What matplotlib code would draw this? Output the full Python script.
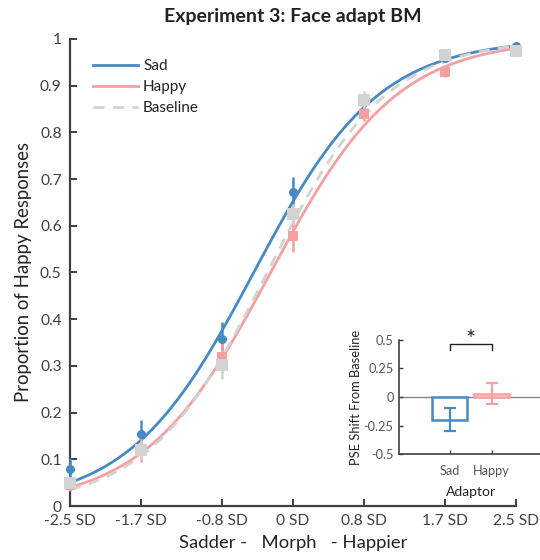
import numpy as np
import matplotlib
matplotlib.use("Agg")
import matplotlib.pyplot as plt

plt.rcParams['font.family'] = ['Lato', 'DejaVu Sans']

# morph levels (in SD units) and tick labels
levels = [-2.5, -1.7, -0.8, 0.0, 0.8, 1.7, 2.5]
level_labels = ['-2.5 SD', '-1.7 SD', '-0.8 SD', '0 SD', '0.8 SD', '1.7 SD', '2.5 SD']

# proportion of happy responses per condition, with SEM
sad_mean = [0.080, 0.155, 0.357, 0.673, 0.868, 0.960, 0.985]
sad_err = [0.022, 0.030, 0.038, 0.032, 0.015, 0.008, 0.004]
happy_mean = [0.045, 0.120, 0.320, 0.578, 0.840, 0.930, 0.975]
happy_err = [0.012, 0.025, 0.030, 0.035, 0.015, 0.012, 0.008]
base_mean = [0.050, 0.120, 0.302, 0.625, 0.870, 0.965, 0.975]
base_err = [0.010, 0.020, 0.030, 0.022, 0.018, 0.008, 0.008]

# logistic fit parameters (PSE, slope scale)
sad_fit = (-0.44, 0.70)
happy_fit = (-0.25, 0.707)
base_fit = (-0.29, 0.667)

# inset: PSE shift from baseline
adaptors = ['Sad', 'Happy']
pse_shift = [-0.20, 0.03]
pse_err = [0.10, 0.095]

BLUE = '#4689c4'
PINK = '#f5a0a0'
GREY = '#d3d3d3'
DARK = '#404040'


def logistic(x, mu, s):
    return 1.0 / (1.0 + np.exp(-(x - mu) / s))


fig = plt.figure(figsize=(5.4, 5.6), dpi=100)
ax = fig.add_axes([0.1296, 0.0964, 0.826, 0.834])

xx = np.linspace(-2.5, 2.5, 300)
conds = [
    ('Sad', sad_mean, sad_err, sad_fit, BLUE, 'o', 6.5, '-'),
    ('Happy', happy_mean, happy_err, happy_fit, PINK, 's', 7, '-'),
    ('Baseline', base_mean, base_err, base_fit, GREY, 's', 8, (0, (4, 3))),
]
for name, m, e, fit, col, mk, ms, ls in conds:
    ax.plot(xx, logistic(xx, *fit), color=col, lw=2.0, ls=ls, label=name,
            clip_on=False, zorder=2)
    ax.errorbar(levels, m, yerr=e, fmt=mk, color=col, ms=ms, mew=0,
                elinewidth=1.8, capsize=4.5, capthick=1.8, clip_on=False, zorder=3)

ax.set_xlim(-2.5, 2.5)
ax.set_ylim(0, 1)
ax.set_xticks(levels)
ax.set_xticklabels(level_labels)
ax.set_yticks(np.arange(0, 1.01, 0.1))
ax.set_yticklabels(['0', '0.1', '0.2', '0.3', '0.4', '0.5', '0.6', '0.7', '0.8', '0.9', '1'])
for sp in ['top', 'right']:
    ax.spines[sp].set_visible(False)
for sp in ['left', 'bottom']:
    ax.spines[sp].set_color(DARK)
    ax.spines[sp].set_linewidth(1.6)
ax.tick_params(direction='in', length=5, width=1.4, color=DARK, labelcolor=DARK,
               labelsize=11.2, pad=6)
ax.set_title('Experiment 3: Face adapt BM', fontsize=14, fontweight='bold',
             color='#222222', pad=12)
ax.set_ylabel('Proportion of Happy Responses', fontsize=13.4, color='#222222', labelpad=6)
ax.set_xlabel('Sadder -   Morph   - Happier', fontsize=13.3, color='#222222', labelpad=5)

leg = ax.legend(loc='upper left', bbox_to_anchor=(0.02, 0.986), frameon=False,
                fontsize=11, handlelength=3.0, handletextpad=0.3, labelspacing=0.45)
for t in leg.get_texts():
    t.set_color('#222222')

# inset
ins = fig.add_axes([0.739, 0.189, 0.265, 0.204])
pos = np.arange(1, len(adaptors) + 1)
cols = [BLUE, PINK]
ins.axhline(0, color='#888888', lw=1.0, zorder=1)
ins.bar(pos, pse_shift, width=0.82, color='white', edgecolor=cols, linewidth=1.8, zorder=2)
for p, v, e, c in zip(pos, pse_shift, pse_err, cols):
    ins.errorbar(p, v, yerr=e, color=c, elinewidth=1.6, capsize=4, capthick=1.6, zorder=3)
ins.set_xlim(-0.2, 3.2)
ins.set_ylim(-0.5, 0.5)
ins.set_yticks([-0.5, -0.25, 0, 0.25, 0.5])
ins.set_yticklabels(['-0.5', '-0.25', '0', '0.25', '0.5'])
ins.set_xticks(pos)
ins.set_xticklabels(adaptors)
for sp in ['top', 'right']:
    ins.spines[sp].set_visible(False)
for sp in ['left', 'bottom']:
    ins.spines[sp].set_color(DARK)
    ins.spines[sp].set_linewidth(1.2)
ins.tick_params(direction='in', length=3, width=1.0, color=DARK, labelcolor='#555555',
                labelsize=9.2, pad=4)
ins.tick_params(axis='x', pad=8)
ins.set_ylabel('PSE Shift From Baseline', fontsize=9.3, color='#222222', labelpad=1)
ins.set_xlabel('Adaptor', fontsize=10, color='#222222', labelpad=6)
# significance bracket
ins.plot([pos[0], pos[0], pos[1], pos[1]], [0.41, 0.46, 0.46, 0.41], color='#222222', lw=1.0)
ins.text(np.mean(pos), 0.50, '*', ha='center', va='center', fontsize=17, color='#222222')

fig.savefig('out.png', dpi=100)
